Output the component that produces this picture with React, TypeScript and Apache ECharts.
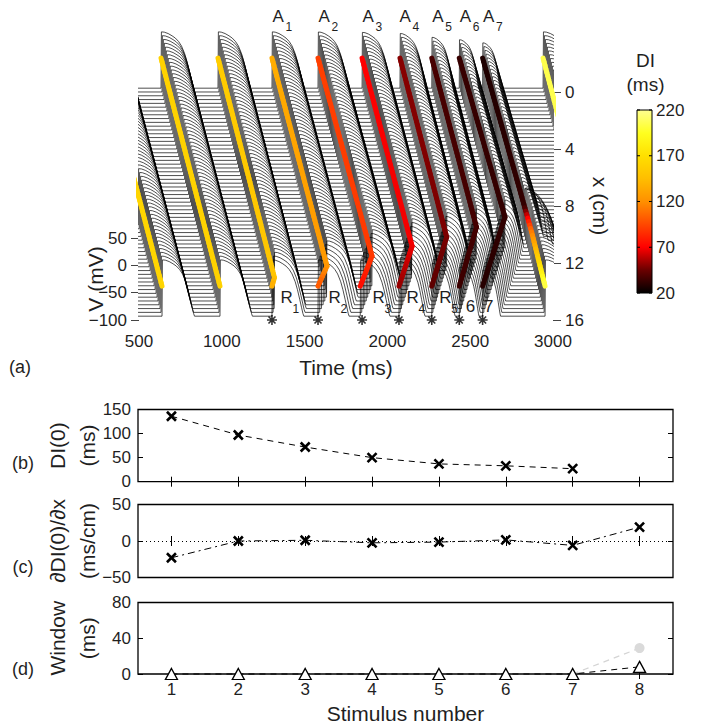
import React, { useEffect, useRef } from "react";
import * as echarts from "echarts";

// ---------------- data ----------------
const TIME_TICKS = [500, 1000, 1500, 2000, 2500, 3000];
const V_TICKS = [-100, -50, 0, 50];
const X_CM_TICKS = [0, 4, 8, 12, 16];
const STIM_TIMES = [1303, 1581, 1847, 2070, 2268, 2434, 2575];
const A_SUBS = ["1", "2", "3", "4", "5", "6", "7"];
const R_LETTERS = ["R", "R", "R", "R", "R", "", ""];
const R_SUBS = ["1", "2", "3", "4", "5", "", ""];
const R_PLAIN = ["", "", "", "", "", "6", "7"];

// activation of each beat along the cable: node positions (cm), times (ms), DI (ms)
const BEAT_X = [
  [0, 16], [0, 16], [0, 15.4, 16], [0, 14.6, 16], [0, 13.9, 16], [0, 13.2, 16],
  [0, 12.56, 16], [0, 11.86, 16], [0, 11.16, 16], [0, 10.5, 12.2, 16], [0, 16],
];
const BEAT_T = [
  [280, 639], [633, 989], [977, 1318, 1303], [1303, 1635, 1581], [1581, 1907, 1836],
  [1847, 2149, 2070], [2076, 2358, 2268], [2268, 2538, 2434], [2434, 2710, 2575],
  [2575, 2830, 2871, 2952], [2940, 3300],
];
const BEAT_DI = [
  [162, 162], [160, 160], [156, 150, 135], [136, 125, 100], [92, 90, 74], [70, 68, 52],
  [50, 48, 42], [37, 36, 34], [33, 32, 29], [27, 32, 110, 205], [205, 205],
];

// restitution used to shape each action potential
const RESTIT_DI = [20, 30, 35, 40, 50, 70, 100, 140, 220];
const RESTIT_APD = [95, 110, 122, 138, 155, 178, 188, 193, 205];
const RESTIT_PEAK = [-15, -8, -2, 3, 7, 9, 10, 10, 10];
const AP_SHAPE_F = [0, 0.012, 0.1, 0.22, 0.34, 0.44, 0.54, 0.63, 0.73, 0.8, 0.87, 0.93, 0.97, 1.0];
const AP_SHAPE_U = [0, 1, 0.995, 0.97, 0.93, 0.89, 0.83, 0.75, 0.61, 0.47, 0.3, 0.15, 0.05, 0];
const REST_MV = -93;
const N_TRACES = 61;
const CABLE_CM = 16;
const ACT_MARK_MV = -38;

const DI_CB_VALUES = [20, 45, 70, 95, 120, 145, 170, 195, 220];
const DI_CB_COLORS = ["#000000", "#6a0000", "#ff0000", "#ff4800", "#ff9000", "#ffbe00", "#ffe000", "#ffff20", "#ffff90"];
const DI_CB_TICKS = [20, 70, 120, 170, 220];

const STIM_NUMBERS = [1, 2, 3, 4, 5, 6, 7, 8];
const DI0 = [136, 97, 72, 50, 37, 33, 27];
const DDI_DX = [-23, 0, 1, -2.5, -1.5, 1.5, -6, 19];
const WINDOW_MS = [0, 0, 0, 0, 0, 0, 0, 8];
const WINDOW_ALT_STIM = [7, 8];
const WINDOW_ALT_MS = [0, 29];

// ---------------- layout ----------------
const PA = { left: 139, right: 553, top: 8, bottom: 320 };
const PX_PER_MV = 82 / 150;
const PX_PER_CM = 228 / 16;
const MV_PER_CM = PX_PER_CM / PX_PER_MV;
const Y_MAX = -100 + (PA.bottom - PA.top) / PX_PER_MV;
const pxToV = (py: number) => -100 + (PA.bottom - py) / PX_PER_MV;
const R_NUDGE_PX = [9, 11, 11, 8, 8, 7, 2];
const FONT = "Liberation Sans, Arial, Helvetica, sans-serif";
const TXT = "#1f1f1f";

function interp(xs: number[], ys: number[], x: number) {
  if (x <= xs[0]) return ys[0];
  for (let k = 1; k < xs.length; k++) {
    if (x <= xs[k]) {
      const f = (x - xs[k - 1]) / (xs[k] - xs[k - 1]);
      return ys[k - 1] + f * (ys[k] - ys[k - 1]);
    }
  }
  return ys[ys.length - 1];
}

function hexToRgb(h: string) {
  return [parseInt(h.slice(1, 3), 16), parseInt(h.slice(3, 5), 16), parseInt(h.slice(5, 7), 16)];
}
function diColor(di: number) {
  const v = Math.max(DI_CB_VALUES[0], Math.min(DI_CB_VALUES[DI_CB_VALUES.length - 1], di));
  const rgb = [0, 1, 2].map((c) => Math.round(interp(DI_CB_VALUES, DI_CB_COLORS.map((h) => hexToRgb(h)[c]), v)));
  return `rgb(${rgb[0]},${rgb[1]},${rgb[2]})`;
}

function buildTraces() {
  const out: number[][][] = [];
  for (let i = 0; i < N_TRACES; i++) {
    const x = (i * CABLE_CM) / (N_TRACES - 1);
    const off = (CABLE_CM - x) * MV_PER_CM;
    const acts = BEAT_T.map((ts, b) => interp(BEAT_X[b], ts, x));
    const pts: number[][] = [[0, REST_MV + off]];
    acts.forEach((ta, b) => {
      const tn = b + 1 < acts.length ? acts[b + 1] : Infinity;
      const di = interp(BEAT_X[b], BEAT_DI[b], x);
      let apd = interp(RESTIT_DI, RESTIT_APD, di);
      const peak = interp(RESTIT_DI, RESTIT_PEAK, di);
      apd = Math.min(apd, tn - ta - 3);
      pts.push([ta, REST_MV + off]);
      for (let k = 1; k < AP_SHAPE_F.length; k++) {
        pts.push([ta + AP_SHAPE_F[k] * apd, REST_MV + AP_SHAPE_U[k] * (peak - REST_MV) + off]);
      }
    });
    pts.push([3600, REST_MV + off]);
    out.push(pts);
  }
  return out;
}

function buildDiSegments() {
  const segs: any[] = [];
  BEAT_X.forEach((xs, b) => {
    const p = (x: number) => [interp(xs, BEAT_T[b], x), ACT_MARK_MV + (CABLE_CM - x) * MV_PER_CM];
    for (let k = 1; k < xs.length; k++) {
      const n = Math.max(2, Math.ceil((xs[k] - xs[k - 1]) / 0.25));
      for (let j = 0; j < n; j++) {
        const x1 = xs[k - 1] + ((xs[k] - xs[k - 1]) * j) / n;
        const x2 = xs[k - 1] + ((xs[k] - xs[k - 1]) * (j + 1)) / n;
        const di = interp(xs, BEAT_DI[b], (x1 + x2) / 2);
        segs.push({ coords: [p(x1), p(x2)], lineStyle: { color: diColor(di) } });
      }
    }
  });
  return segs;
}

const X_SYMBOL = "path://M0,0L10,10M10,0L0,10";
const STAR_SYMBOL = "path://M5,0L5,10M0,5L10,5M1.5,1.5L8.5,8.5M1.5,8.5L8.5,1.5";

export default function App() {
  const ref = useRef<HTMLDivElement>(null);
  useEffect(() => {
    if (!ref.current) return;
    const chart = echarts.init(ref.current, undefined, { renderer: "svg" });

    const traces = buildTraces();
    const traceSeries = traces.map((pts) => ({
      type: "line",
      xAxisIndex: 0,
      yAxisIndex: 0,
      data: pts,
      symbol: "none",
      silent: true,
      z: 2,
      lineStyle: { color: "#000", width: 0.7 },
      areaStyle: { color: "#fff", opacity: 1, origin: "start" },
    }));

    const labelBase = {
      show: true, position: [0, 0], align: "left", verticalAlign: "middle", color: TXT, fontFamily: FONT,
      opacity: 1, textBorderWidth: 0, textBorderColor: "transparent", textShadowBlur: 0,
    };
    const mkLabelSeries = (texts: string[], yv: number, dx: number[] | number, dy: number, size: number) => ({
      type: "scatter",
      xAxisIndex: 0,
      yAxisIndex: 0,
      symbolSize: 1,
      itemStyle: { color: "rgba(0,0,0,0)" },
      silent: true,
      clip: false,
      z: 6,
      data: STIM_TIMES.map((t, i) => ({
        value: [t, yv],
        label: { ...labelBase, fontSize: size, formatter: texts[i], offset: [Array.isArray(dx) ? dx[i] : dx, dy] },
      })),
    });

    const yAxisBox = (gi: number, min: number, max: number, interval: number, name: string) => [
      {
        gridIndex: gi, type: "value", min, max, interval, position: "left",
        axisLine: { show: false }, splitLine: { show: false },
        axisTick: { show: true, inside: true, length: 5, lineStyle: { color: "#000" } },
        axisLabel: { fontSize: 17, color: TXT, fontFamily: FONT, margin: 7, formatter: (v: number) => String(v).replace("-", "\u2212") },
        name, nameLocation: "middle", nameRotate: 90, nameGap: 36, nameMoveOverlap: false,
        nameTextStyle: { fontSize: 21, color: TXT, fontFamily: FONT, lineHeight: 30 },
      },
      {
        gridIndex: gi, type: "value", min, max, interval, position: "right",
        axisLine: { show: false }, splitLine: { show: false },
        axisTick: { show: true, inside: true, length: 5, lineStyle: { color: "#000" } },
        axisLabel: { show: false },
      },
    ];
    const xAxisBox = (gi: number, labels: boolean) => [
      {
        gridIndex: gi, type: "value", min: 0.5, max: 8.5, position: "bottom",
        axisLine: { show: false }, splitLine: { show: false },
        axisTick: { show: true, inside: true, length: 5, customValues: STIM_NUMBERS, lineStyle: { color: "#000" } },
        axisLabel: { show: labels, customValues: STIM_NUMBERS, fontSize: 17, color: TXT, fontFamily: FONT, margin: 7 },
        name: labels ? "Stimulus number" : "", nameLocation: "middle", nameGap: 29, nameMoveOverlap: false,
        nameTextStyle: { fontSize: 21, color: TXT, fontFamily: FONT },
      },
      {
        gridIndex: gi, type: "value", min: 0.5, max: 8.5, position: "top",
        axisLine: { show: false }, splitLine: { show: false },
        axisTick: { show: true, inside: true, length: 5, customValues: STIM_NUMBERS, lineStyle: { color: "#000" } },
        axisLabel: { show: false },
      },
    ];

    const boxGrid = (top: number, height: number) => ({
      left: 138, width: 535, top, height, show: true, borderColor: "#000", borderWidth: 1.3, backgroundColor: "transparent",
    });

    // axis index layout: x 0..2 panel-a helpers, 3/4 (b), 5/6 (c), 7/8 (d); y same
    const yb = yAxisBox(3, 0, 150, 50, "DI(0)\n(ms)");
    const yc = yAxisBox(4, -50, 50, 50, "\u2202DI(0)/\u2202x\n(ms/cm)");
    const yd = yAxisBox(5, 0, 80, 40, "Window\n(ms)");
    const xb = xAxisBox(3, false);
    const xc = xAxisBox(4, false);
    const xd = xAxisBox(5, true);

    const cbTop = 110, cbH = 183, cbX = 637, cbW = 15;
    const cbY = (v: number) => cbTop + ((220 - v) / 200) * cbH;
    const gradStops = DI_CB_VALUES.map((v, i) => ({ offset: (220 - v) / 200, color: DI_CB_COLORS[i] })).sort((a, b) => a.offset - b.offset);

    const graphic: any[] = [
      { type: "rect", shape: { x: cbX, y: cbTop, width: cbW, height: cbH }, style: { fill: new echarts.graphic.LinearGradient(0, 0, 0, 1, gradStops), stroke: "#000", lineWidth: 1 }, z: 10 },
      { type: "text", x: cbX + cbW / 2 + 1, y: 60, style: { text: "DI", font: `19px ${FONT}`, fill: TXT, align: "center", verticalAlign: "middle" }, z: 10 },
      { type: "text", x: cbX + cbW / 2 + 1, y: 84, style: { text: "(ms)", font: `19px ${FONT}`, fill: TXT, align: "center", verticalAlign: "middle" }, z: 10 },
      { type: "text", x: 20, y: 367, style: { text: "(a)", font: `18px ${FONT}`, fill: TXT, align: "center", verticalAlign: "middle" } },
      { type: "text", x: 23, y: 463, style: { text: "(b)", font: `18px ${FONT}`, fill: TXT, align: "center", verticalAlign: "middle" } },
      { type: "text", x: 23, y: 567, style: { text: "(c)", font: `18px ${FONT}`, fill: TXT, align: "center", verticalAlign: "middle" } },
      { type: "text", x: 23, y: 669, style: { text: "(d)", font: `18px ${FONT}`, fill: TXT, align: "center", verticalAlign: "middle" } },
    ];
    DI_CB_TICKS.forEach((v) => {
      const y = cbY(v);
      graphic.push({ type: "line", shape: { x1: cbX, y1: y, x2: cbX + 3, y2: y }, style: { stroke: "#000", lineWidth: 1 }, z: 11 });
      graphic.push({ type: "line", shape: { x1: cbX + cbW - 3, y1: y, x2: cbX + cbW, y2: y }, style: { stroke: "#000", lineWidth: 1 }, z: 11 });
      graphic.push({ type: "text", x: cbX + cbW + 4, y, style: { text: String(v), font: `17px ${FONT}`, fill: TXT, align: "left", verticalAlign: "middle" }, z: 10 });
    });

    const option: any = {
      animation: false,
      backgroundColor: "#fff",
      textStyle: { fontFamily: FONT, color: TXT },
      grid: [
        { left: PA.left, width: PA.right - PA.left, top: PA.top, height: PA.bottom - PA.top },
        { left: PA.left, width: PA.right - PA.left, top: 92, height: PA.bottom - 92 },
        { left: PA.left, width: PA.right - PA.left, top: 238, height: PA.bottom - 238 },
        boxGrid(409.5, 72.2),
        boxGrid(504.5, 73),
        boxGrid(602.5, 71.5),
      ],
      xAxis: [
        {
          gridIndex: 0, type: "value", min: TIME_TICKS[0], max: TIME_TICKS[TIME_TICKS.length - 1], interval: 500,
          axisLine: { show: true, lineStyle: { color: "#555", width: 1 } },
          axisTick: { show: true, inside: false, length: 11, lineStyle: { color: "#555" } },
          axisLabel: { fontSize: 17, color: TXT, fontFamily: FONT, margin: 13, formatter: (v: number) => String(v) },
          splitLine: { show: false },
          name: "Time (ms)", nameLocation: "middle", nameGap: 37, nameMoveOverlap: false,
          nameTextStyle: { fontSize: 21, color: TXT, fontFamily: FONT },
        },
        { gridIndex: 1, type: "value", min: 500, max: 3000, show: false },
        { gridIndex: 2, type: "value", min: 500, max: 3000, show: false },
        ...xb, ...xc, ...xd,
      ],
      yAxis: [
        { gridIndex: 0, type: "value", min: -100, max: Y_MAX, show: false },
        {
          gridIndex: 1, type: "value", min: 0, max: 16, interval: 4, inverse: true, position: "right",
          axisLine: { show: true, lineStyle: { color: "#444", width: 1 } },
          axisTick: { show: true, inside: false, length: 8, customValues: X_CM_TICKS, lineStyle: { color: "#444" } },
          axisLabel: { fontSize: 17, color: TXT, fontFamily: FONT, margin: 12, customValues: X_CM_TICKS },
          splitLine: { show: false },
          name: "x (cm)", nameLocation: "middle", nameRotate: -90, nameGap: 37, nameMoveOverlap: false,
          nameTextStyle: { fontSize: 21, color: TXT, fontFamily: FONT },
        },
        {
          gridIndex: 2, type: "value", min: -100, max: 50, interval: 50, position: "left",
          axisLine: { show: false },
          axisTick: { show: true, inside: false, length: 8, customValues: V_TICKS, lineStyle: { color: "#444" } },
          axisLabel: { fontSize: 17, color: TXT, fontFamily: FONT, margin: 12, customValues: V_TICKS, formatter: (v: number) => String(v).replace("-", "\u2212") },
          splitLine: { show: false },
          name: "V (mV)", nameLocation: "middle", nameRotate: 90, nameGap: 33, nameMoveOverlap: false,
          nameTextStyle: { fontSize: 21, color: TXT, fontFamily: FONT },
        },
        ...yb, ...yc, ...yd,
      ],
      graphic,
      series: [
        ...traceSeries,
        {
          type: "lines", coordinateSystem: "cartesian2d", xAxisIndex: 0, yAxisIndex: 0,
          data: buildDiSegments(), silent: true, z: 5,
          lineStyle: { width: 5, cap: "round", opacity: 1 },
        },
        {
          type: "scatter", xAxisIndex: 0, yAxisIndex: 0, clip: false, silent: true, z: 7,
          data: STIM_TIMES.map((t) => [t, -100]),
          symbol: STAR_SYMBOL, symbolSize: 10,
          itemStyle: { color: "rgba(0,0,0,0)", borderColor: "#000", borderWidth: 1.6 },
        },
        mkLabelSeries(STIM_TIMES.map(() => "A"), pxToV(17), 1, 0, 17),
        mkLabelSeries(A_SUBS, pxToV(17), 14, 10, 12),
        mkLabelSeries(R_LETTERS, pxToV(298), R_NUDGE_PX, 0, 17),
        mkLabelSeries(R_SUBS, pxToV(298), R_NUDGE_PX.map((d) => d + 12), 11, 12),
        mkLabelSeries(R_PLAIN, pxToV(307), R_NUDGE_PX, 0, 17),
        // (b)
        {
          type: "line", xAxisIndex: 3, yAxisIndex: 3, clip: false,
          data: DI0.map((v, i) => [STIM_NUMBERS[i], v]),
          lineStyle: { color: "#000", width: 1, type: [6, 5] },
          symbol: X_SYMBOL, symbolSize: 9,
          itemStyle: { color: "rgba(0,0,0,0)", borderColor: "#000", borderWidth: 2.6 },
        },
        // (c)
        {
          type: "line", xAxisIndex: 5, yAxisIndex: 5, clip: false,
          data: DDI_DX.map((v, i) => [STIM_NUMBERS[i], v]),
          lineStyle: { color: "#000", width: 1, type: [7, 4, 2, 4] },
          symbol: X_SYMBOL, symbolSize: 9,
          itemStyle: { color: "rgba(0,0,0,0)", borderColor: "#000", borderWidth: 2.6 },
          markLine: {
            silent: true, symbol: ["none", "none"], label: { show: false },
            lineStyle: { color: "#000", width: 1, type: [1, 3] },
            data: [{ yAxis: 0 }],
          },
        },
        // (d)
        {
          type: "line", xAxisIndex: 7, yAxisIndex: 7, clip: false, z: 2,
          data: WINDOW_ALT_STIM.map((s, i) => ({ value: [s, WINDOW_ALT_MS[i]], symbol: i === 0 ? "none" : "circle" })),
          lineStyle: { color: "#d4d4d4", width: 1.2, type: [6, 5] },
          symbolSize: 10,
          itemStyle: { color: "#dadada" },
        },
        {
          type: "line", xAxisIndex: 7, yAxisIndex: 7, clip: false, z: 3,
          data: WINDOW_MS.map((v, i) => [STIM_NUMBERS[i], v]),
          lineStyle: { color: "#000", width: 1, type: [6, 5] },
          symbol: "triangle", symbolSize: [12, 11],
          itemStyle: { color: "#fff", borderColor: "#000", borderWidth: 1.3 },
        },
      ],
    };
    chart.setOption(option);
    return () => chart.dispose();
  }, []);

  return <div ref={ref} style={{ position: "absolute", left: 0, top: 0, width: 702, height: 725 }} />;
}
